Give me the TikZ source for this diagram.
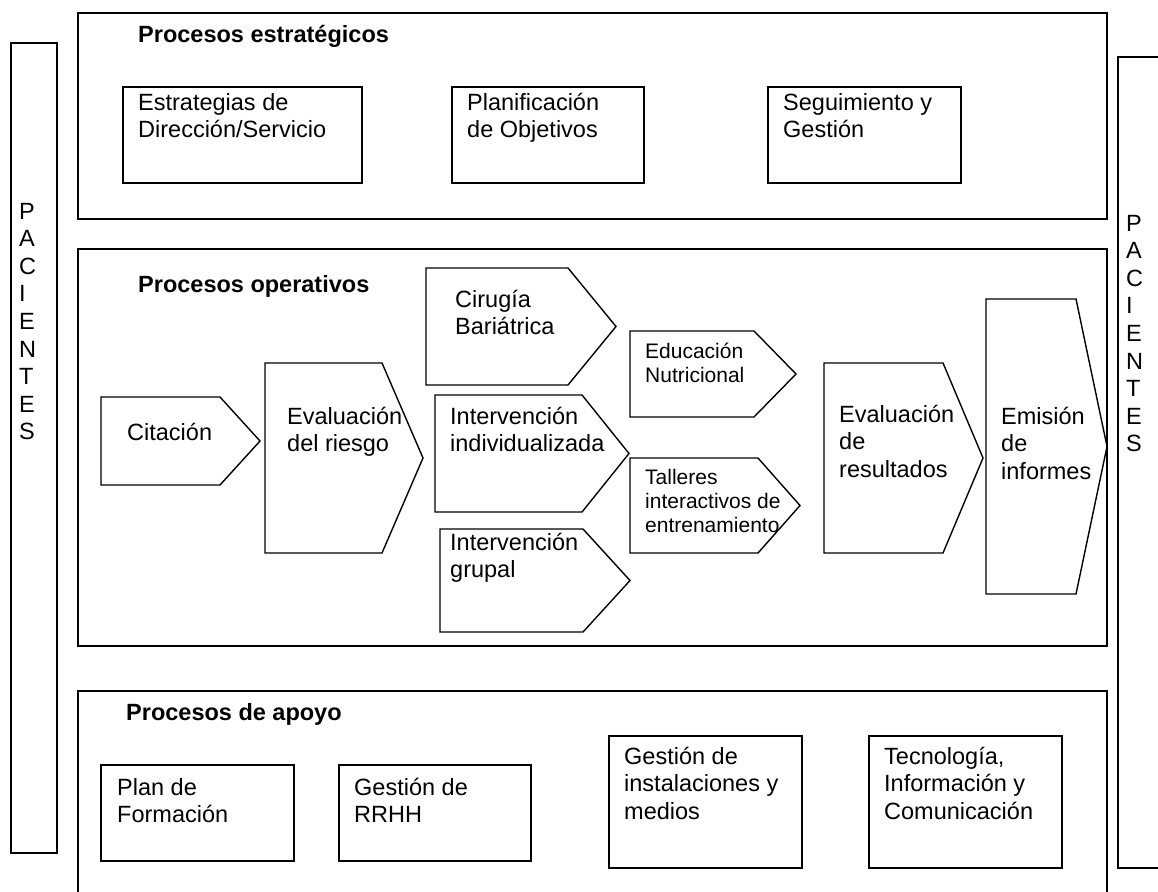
\documentclass[tikz,border=0pt]{standalone}
\usepackage{fontspec}
\setmainfont{Liberation Sans}
\tikzset{
  frame/.style={line width=1.8pt},
  pbox/.style={line width=1.4pt},
  txt/.style={font=\fontsize{23.5}{27.5}\selectfont, align=left, inner sep=0pt, anchor=base west},
  smalltxt/.style={txt, font=\fontsize{21}{24.3}\selectfont},
  title/.style={txt, font=\fontsize{23.5}{27.5}\selectfont\bfseries}
}

\begin{document}
\begin{tikzpicture}[x=1pt,y=-1pt]
        \useasboundingbox (0,0) rectangle (1158,891);
        \clip (0,0) rectangle (1158,891);

        % draw patient bars
        \draw[pbox] (11,43) rectangle (57,853);
        \draw[pbox] (1118,57) rectangle (1180,868);
        \foreach \l [count=\i] in {P,A,C,I,E,N,T,E,S} {
          \node[txt] (pacl\i) at (19,{219+(\i-1)*27.6}) {\l};
          \node[txt] (pacr\i) at (1126,{231+(\i-1)*27.6}) {\l};
        }

        % draw process frames
        \draw[frame] (78,13) rectangle (1107,219);
        \draw[frame] (78,249) rectangle (1107,646);
        \draw[frame] (78,691) rectangle (1107,900);

        % draw plain boxes
        \foreach \xa/\ya/\xb/\yb in {123/87/362/183, 452/87/644/183, 768/87/961/183,
                                     101/765/294/861, 339/765/531/861,
                                     609/736/802/868, 869/736/1062/868}
          \draw[pbox] (\xa,\ya) rectangle (\xb,\yb);

        % draw arrow boxes
        \foreach \xa/\ya/\xb/\xc/\yb in {101/397/220/260/485, 265/363/382/423/553,
                                         426/268/568/616/385, 435/395/582/629/512,
                                         440/529/583/630/632, 630/331/754/796/417,
                                         630/458/758/800/553, 824/363/943/983/553,
                                         986/299/1076/1107/594}
          \draw[pbox] (\xa,\ya) -- (\xb,\ya) -- (\xc,{(\ya+\yb)/2}) -- (\xb,\yb) -- (\xa,\yb) -- cycle;

        % draw titles
        \node[title] (estrat) at (138,42) {Procesos estratégicos};
        \node[title] (operat) at (138,292) {Procesos operativos};
        \node[title] (apoyo) at (126,720) {Procesos de apoyo};

        % draw labels (anchored at the last line)
        \node[txt] (direccion) at (138,137.5) {Estrategias de\\Dirección/Servicio};
        \node[txt] (objetivos) at (467,137.5) {Planificación\\de Objetivos};
        \node[txt] (seguim) at (783,137.5) {Seguimiento y\\Gestión};

        \node[txt] (citacion) at (127,440) {Citación};
        \node[txt] (riesgo) at (287,451.5) {Evaluación\\del riesgo};
        \node[txt] (cirugia) at (455,334.5) {Cirugía\\Bariátrica};
        \node[txt] (individual) at (450,451.5) {Intervención\\individualizada};
        \node[txt] (grupal) at (450,577.5) {Intervención\\grupal};
        \node[smalltxt] (educacion) at (645,382.3) {Educación\\Nutricional};
        \node[smalltxt] (talleres) at (645,532.6) {Talleres\\interactivos de\\entrenamiento};
        \node[txt] (resultados) at (839,477) {Evaluación\\de\\resultados};
        \node[txt] (informes) at (1001,479) {Emisión\\de\\informes};

        \node[txt] (formacion) at (117,822.5) {Plan de\\Formación};
        \node[txt] (rrhh) at (354,822.5) {Gestión de\\RRHH};
        \node[txt] (instal) at (624,819) {Gestión de\\instalaciones y\\medios};
        \node[txt] (tic) at (884,819) {Tecnología,\\Información y\\Comunicación};
        \end{tikzpicture}
\end{document}
